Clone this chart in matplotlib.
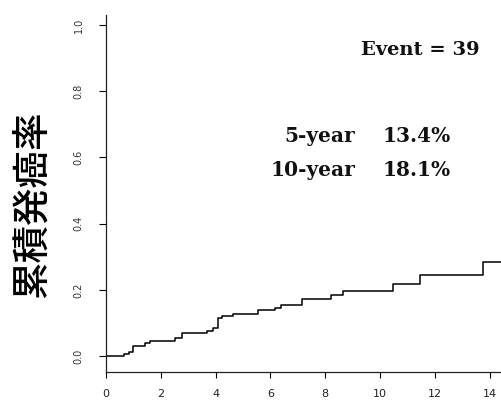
import numpy as np
import matplotlib
matplotlib.use('Agg')
import matplotlib.pyplot as plt

# step times (years) and cumulative incidence
times = [0, 0.66, 0.85, 1.0, 1.42, 1.6, 2.52, 2.76, 3.67, 3.9, 4.1, 4.22,
         4.62, 5.53, 6.17, 6.37, 7.14, 8.2, 8.64, 10.49, 11.46, 13.77, 14.45]
incidence = [0, 0.006, 0.012, 0.030, 0.041, 0.046, 0.056, 0.070, 0.076, 0.085,
             0.116, 0.121, 0.128, 0.138, 0.146, 0.153, 0.171, 0.184, 0.197,
             0.217, 0.244, 0.283, 0.283]

x_ticks = [0, 2, 4, 6, 8, 10, 12, 14]
y_ticks = [0.0, 0.2, 0.4, 0.6, 0.8, 1.0]
y_label = '累積発癌率'
event_text = 'Event = 39'
rate_labels = ['5-year', '10-year']
rate_values = ['13.4%', '18.1%']

fig = plt.figure(figsize=(5.02, 4.01), dpi=100, facecolor='w')
ax = fig.add_axes([106 / 502, 29 / 401, 1 - 106 / 502, (372 - 15) / 401])

ax.step(times, incidence, where='post', color='black', lw=1.1)

ax.set_xlim(0, 14.45)
ax.set_ylim(-0.048, 1.030)
ax.set_xticks(x_ticks)
ax.set_yticks(y_ticks)
ax.set_xticklabels([str(t) for t in x_ticks], fontsize=8, color='#222')
ax.set_yticklabels(['%.1f' % t for t in y_ticks], fontsize=7, color='#333',
                   rotation=90, va='center')
ax.tick_params(axis='x', direction='out', length=4, width=0.8, pad=8)
ax.tick_params(axis='y', direction='out', length=5, width=0.8, pad=11)

for spine in ('top', 'right'):
    ax.spines[spine].set_visible(False)
for spine in ('left', 'bottom'):
    ax.spines[spine].set_linewidth(0.9)
    ax.spines[spine].set_color('#222')

fig.text(33 / 502, 1 - 204 / 401, y_label, rotation=90, ha='center', va='center',
         fontsize=27, fontweight='medium', family=['Noto Sans CJK JP', 'DejaVu Sans'])

serif = dict(family='DejaVu Serif', fontweight='bold', color='#111')
fig.text(480 / 502, 1 - 50 / 401, event_text, ha='right', va='center',
         fontsize=14, **serif)
for i, (lab, val) in enumerate(zip(rate_labels, rate_values)):
    yy = 1 - (136 + i * 34) / 401
    fig.text(355 / 502, yy, lab, ha='right', va='center', fontsize=14.5, **serif)
    fig.text(383 / 502, yy, val, ha='left', va='center', fontsize=14.5, **serif)

fig.savefig('out.png', dpi=100)
